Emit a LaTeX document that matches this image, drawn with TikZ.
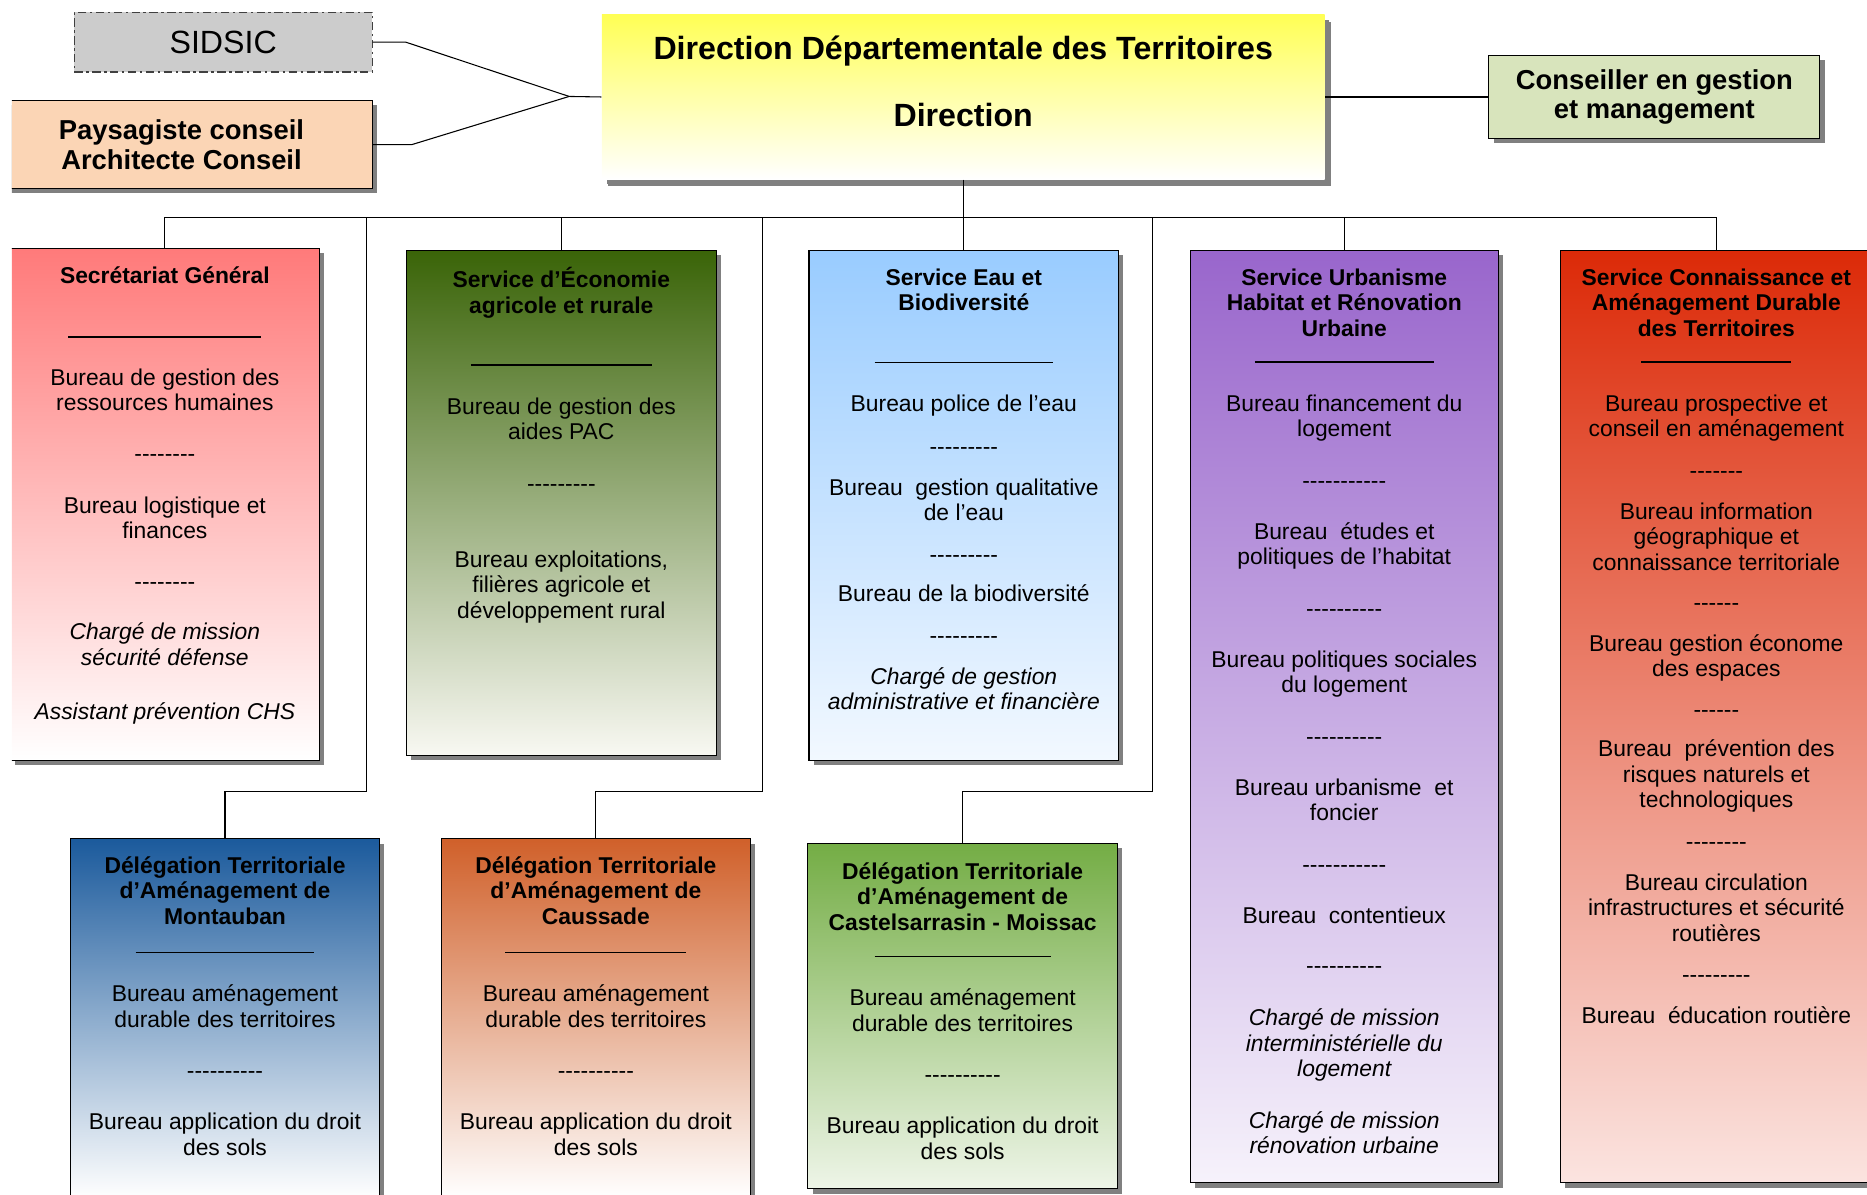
\documentclass[tikz,border=0pt]{standalone}
\usepackage{fontspec}
\setmainfont{Liberation Sans}
\usetikzlibrary{shadows}

\definecolor{sgred}{HTML}{FF7A7A}
\definecolor{ecogreen}{HTML}{3A6408}
\definecolor{ecopale}{HTML}{F8F8F2}
\definecolor{eaublue}{HTML}{99CCFF}
\definecolor{eaupale}{HTML}{F2F8FF}
\definecolor{urbviolet}{HTML}{9966CC}
\definecolor{urbpale}{HTML}{F6F2FB}
\definecolor{conred}{HTML}{DC2A08}
\definecolor{conpale}{HTML}{FBE4E0}
\definecolor{montblue}{HTML}{1B5A9C}
\definecolor{causorange}{HTML}{D0602A}
\definecolor{castgreen}{HTML}{74AD45}
\definecolor{castpale}{HTML}{EEF5E8}
\definecolor{diryellow}{HTML}{FFFF55}
\definecolor{payfill}{HTML}{FBD5B5}
\definecolor{consfill}{HTML}{D8E4BC}
\definecolor{sidfill}{HTML}{CCCCCC}

\newcommand\dashrow[1]{\foreach \dsh in {1,...,#1}{\mbox{-}}}
\newcommand\ruleline[1]{\rule[6pt]{#1pt}{0.9pt}}
\newcommand\boxbody[4]{\parbox[t][#2pt][t]{#1pt}{\centering\vspace*{#3pt}\strut #4}}

\tikzset{
  plain/.style={draw, line width=0.9pt, inner sep=0pt, anchor=north west,
    font=\fontsize{19.2}{21.5}\selectfont},
  unit/.style={plain, drop shadow={shadow xshift=4pt, shadow yshift=-4pt, fill=black!50, opacity=1}},
  head/.style={unit, align=center, font=\bfseries\fontsize{23}{25}\selectfont},
  link/.style={line width=0.9pt},
}

\begin{document}
\begin{tikzpicture}[x=1pt,y=-1pt]
    \useasboundingbox (0,0) rectangle (1568,1003);
    \begin{scope}
    \clip (10,0) rectangle (1568,1003);

    % top row
    \node[plain, fill=sidfill, draw=black!75, dash pattern=on 7pt off 3pt on 2pt off 3pt,
        minimum width=250pt, minimum height=50pt, font=\fontsize{27}{30}\selectfont] (sidsic) at (62,10) {SIDSIC};
    \node[head, fill=payfill, minimum width=320pt, minimum height=74pt] (paysage) at (-8,84)
        {Paysagiste conseil\\Architecte Conseil};
    \node[unit, draw=none, top color=diryellow, bottom color=white,
        drop shadow={shadow xshift=5pt, shadow yshift=-6pt, fill=black!50, opacity=1}] (ddt) at (505,12)
        {\boxbody{607}{138}{18}{\bfseries\fontsize{27}{28}\selectfont Direction Départementale des Territoires\\[28pt]Direction}};
    \node[head, fill=consfill, minimum width=278pt, minimum height=70pt] (conseil) at (1250,46)
        {Conseiller en gestion\\et management};

    % services
    \node[unit, top color=sgred, bottom color=white] (sg) at (8,208) {\boxbody{260}{430}{15}{%
        {\bfseries Secrétariat Général}\\[29.5pt]
        \ruleline{162}\\[12.5pt]
        Bureau de gestion des\\ressources humaines\\[21.5pt]
        \dashrow{8}\\[21.5pt]
        Bureau logistique et\\finances\\[21.5pt]
        \dashrow{8}\\[20.5pt]
        {\itshape Chargé de mission\\sécurité défense\\[23.5pt]Assistant prévention CHS}}};
    \node[unit, top color=ecogreen, bottom color=ecopale] (eco) at (341,210) {\boxbody{260}{424}{14}{%
        {\bfseries Service d'Économie\\agricole et rurale}\\[28.5pt]
        \ruleline{152}\\[13.5pt]
        Bureau de gestion des\\aides PAC\\[21.5pt]
        \dashrow{9}\\[42.5pt]
        Bureau exploitations,\\filières agricole et\\développement rural}};
    \node[unit, top color=eaublue, bottom color=eaupale] (eau) at (679,210) {\boxbody{260}{428}{14}{%
        {\bfseries Service Eau et\\Biodiversité}\\[28.5pt]
        \ruleline{150}\\[13.5pt]
        Bureau police de l'eau\\[14.5pt]
        \dashrow{9}\\[12.5pt]
        Bureau~ gestion qualitative\\de l'eau\\[13.5pt]
        \dashrow{9}\\[11.5pt]
        Bureau de la biodiversité\\[13.5pt]
        \dashrow{9}\\[12.5pt]
        {\itshape Chargé de gestion\\administrative et financière}}};
    \node[unit, top color=urbviolet, bottom color=urbpale] (urb) at (999,210) {\boxbody{259}{783}{14}{%
        {\bfseries Service Urbanisme\\Habitat et Rénovation\\Urbaine}\\[6.5pt]
        \ruleline{150}\\[13.5pt]
        Bureau financement du\\logement\\[21.5pt]
        \dashrow{11}\\[21.5pt]
        Bureau~ études et\\politiques de l'habitat\\[21.5pt]
        \dashrow{10}\\[21.5pt]
        Bureau politiques sociales\\du logement\\[21.5pt]
        \dashrow{10}\\[21.5pt]
        Bureau urbanisme~ et\\foncier\\[21.5pt]
        \dashrow{11}\\[21.5pt]
        Bureau~ contentieux\\[20.5pt]
        \dashrow{10}\\[22.5pt]
        {\itshape Chargé de mission\\interministérielle du\\logement\\[21.5pt]Chargé de mission\\rénovation urbaine}}};
    \node[unit, top color=conred, bottom color=conpale] (con) at (1310,210) {\boxbody{262}{783}{14}{%
        {\bfseries Service Connaissance et\\Aménagement Durable\\des Territoires}\\[6.5pt]
        \ruleline{126}\\[13.5pt]
        Bureau prospective et\\conseil en aménagement\\[13.5pt]
        \dashrow{7}\\[12.5pt]
        Bureau information\\géographique et\\connaissance territoriale\\[12.5pt]
        \dashrow{6}\\[12.5pt]
        Bureau gestion économe\\des espaces\\[12.5pt]
        \dashrow{6}\\[11.5pt]
        Bureau~ prévention des\\risques naturels et\\technologiques\\[13.5pt]
        \dashrow{8}\\[12.5pt]
        Bureau circulation\\infrastructures et sécurité\\routières\\[13.5pt]
        \dashrow{9}\\[12.5pt]
        Bureau~ éducation routière}};

    % delegations
    \node[unit, top color=montblue, bottom color=white] (mont) at (59,704) {\boxbody{259}{302}{14}{%
        {\bfseries Délégation Territoriale\\d’Aménagement de\\Montauban}\\[8.5pt]
        \ruleline{150}\\[13.5pt]
        Bureau aménagement\\durable des territoires\\[21.5pt]
        \dashrow{10}\\[21.5pt]
        Bureau application du droit\\des sols}};
    \node[unit, top color=causorange, bottom color=white] (caus) at (370,704) {\boxbody{260}{302}{14}{%
        {\bfseries Délégation Territoriale\\d’Aménagement de\\Caussade}\\[8.5pt]
        \ruleline{152}\\[13.5pt]
        Bureau aménagement\\durable des territoires\\[21.5pt]
        \dashrow{10}\\[21.5pt]
        Bureau application du droit\\des sols}};
    \node[unit, top color=castgreen, bottom color=castpale] (cast) at (678,708) {\boxbody{260}{290}{15}{%
        {\bfseries Délégation Territoriale\\d’Aménagement de\\Castelsarrasin - Moissac}\\[6.5pt]
        \ruleline{148}\\[13.5pt]
        Bureau aménagement\\durable des territoires\\[21.5pt]
        \dashrow{10}\\[21.5pt]
        Bureau application du droit\\des sols}};

    % links
    \coordinate (join) at (478,81);
    \draw[link] (sidsic.east) -- ++(28,0) -- (join) -- (ddt.west);
    \draw[link] (paysage.east) -- ++(33,0) -- (join);
    \draw[link] (ddt.east) -- (conseil.west);

    \coordinate (bus) at ([yshift=-32pt]ddt.south);
    \draw[link] (ddt.south) -- (bus);
    \draw[link] (sg.north) |- (bus) -| (con.north);
    \foreach \n in {eco,eau,urb}
        \draw[link] (\n.north) -- (\n.north |- bus);

    \coordinate (kmont) at (308,665);
    \coordinate (kcaus) at (640,665);
    \coordinate (kcast) at (968,665);
    \draw[link] (kmont |- bus) -- (kmont) -| (mont.north);
    \draw[link] (kcaus |- bus) -- (kcaus) -| (caus.north);
    \draw[link] (kcast |- bus) -- (kcast) -| (cast.north);
    \end{scope}
\end{tikzpicture}
\end{document}
